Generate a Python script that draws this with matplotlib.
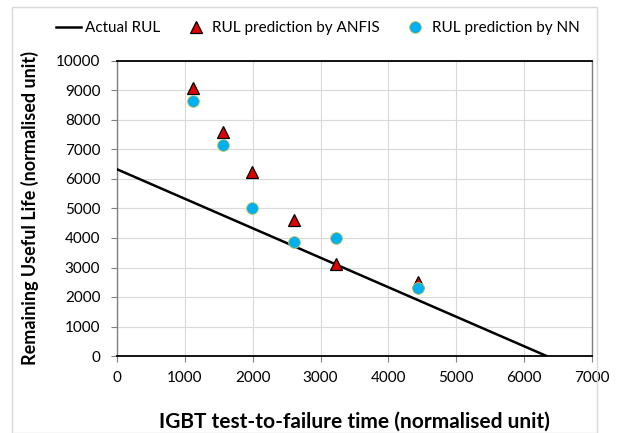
import numpy as np
import matplotlib.pyplot as plt
from matplotlib.patches import Rectangle

plt.rcParams['font.family'] = ['Lato', 'DejaVu Sans']

# data
actual_x = [0, 6330]
actual_y = [6330, 0]

test_time = [1120, 1560, 1995, 2615, 3230, 4435]
anfis_rul = [9080, 7580, 6240, 4600, 3110, 2520]
nn_rul = [8650, 7140, 5010, 3870, 3990, 2320]

x_ticks = np.arange(0, 7001, 1000)
y_ticks = np.arange(0, 10001, 1000)

fig = plt.figure(figsize=(6.19, 4.33), dpi=100)
ax = fig.add_axes([117 / 619, 1 - 356 / 433, 475 / 619, 295 / 433])

ax.plot(actual_x, actual_y, color='black', lw=1.8, label='Actual RUL', zorder=3)
ax.plot(test_time, anfis_rul, ls='none', marker='^', ms=9, mfc='#E00000',
        mec='black', mew=0.9, label='RUL prediction by ANFIS', zorder=4)
ax.plot(test_time, nn_rul, ls='none', marker='o', ms=8.5, mfc='#00B0F0',
        mec='#C8C850', mew=0.6, label='RUL prediction by NN', zorder=5)

ax.set_xlim(0, 7000)
ax.set_ylim(0, 10000)
ax.set_xticks(x_ticks)
ax.set_yticks(y_ticks)
ax.grid(True, color='#D9D9D9', lw=0.8)
ax.set_axisbelow(True)
ax.tick_params(labelsize=11, length=4, color='#808080', direction='out')
ax.tick_params(axis='x', pad=7)
ax.tick_params(axis='y', pad=8)

ax.spines['left'].set_color('#808080')
ax.spines['right'].set_color('#808080')
ax.spines['top'].set_color('black')
ax.spines['bottom'].set_color('black')
for s in ax.spines.values():
    s.set_linewidth(1.0)
ax.spines['top'].set_linewidth(1.3)
ax.spines['bottom'].set_linewidth(1.3)

ax.set_xlabel('IGBT test-to-failure time (normalised unit)', fontsize=15,
              fontweight='bold', labelpad=19)
ax.set_ylabel('Remaining Useful Life (normalised unit)', fontsize=13,
              fontweight='bold', labelpad=12)

fig.legend(loc='center', bbox_to_anchor=(318 / 619, 1 - 28 / 433), ncol=3,
           frameon=False, fontsize=11, handlelength=1.6, handletextpad=0.3,
           columnspacing=1.5)

fig.patches.append(Rectangle((12 / 619, 0), 585 / 619, 1 - 7 / 433,
                             transform=fig.transFigure, fill=False,
                             ec='#D9D9D9', lw=1.0))

fig.savefig('out.png', dpi=100)
